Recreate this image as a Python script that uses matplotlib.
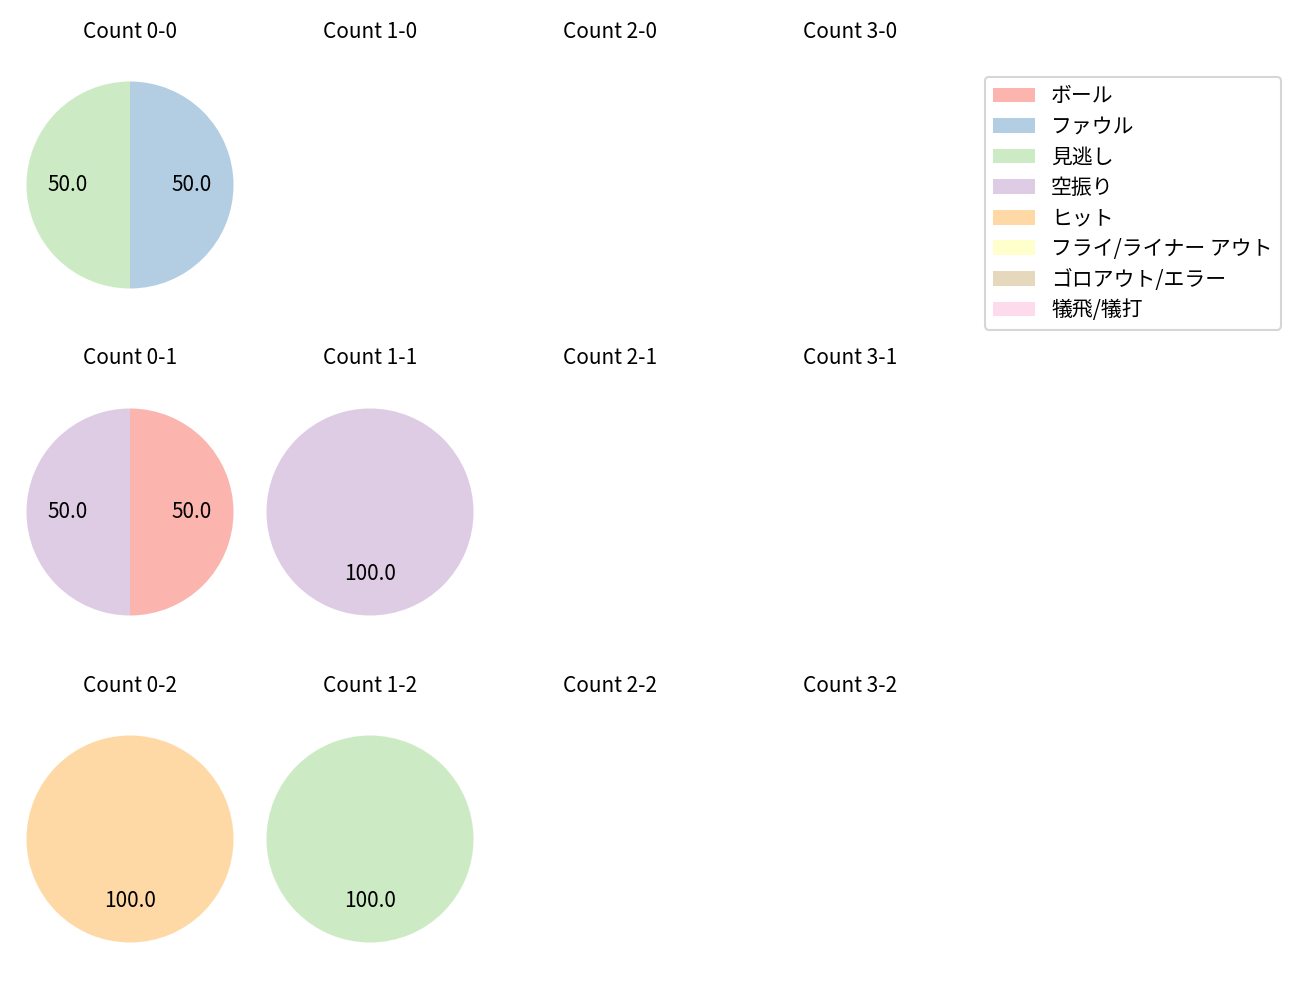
import matplotlib.pyplot as plt
from matplotlib.patches import Patch

plt.rcParams['font.family'] = ['Noto Sans CJK JP', 'DejaVu Sans']

categories = ['ボール', 'ファウル', '見逃し', '空振り', 'ヒット',
              'フライ/ライナー アウト', 'ゴロアウト/エラー', '犠飛/犠打']
colors = plt.get_cmap('Pastel1').colors[:len(categories)]

balls = [0, 1, 2, 3]
strikes = [0, 1, 2]

# percentages per count, same order as categories (missing = no pitches)
count_0_0 = [0, 50, 50, 0, 0, 0, 0, 0]
count_0_1 = [50, 0, 0, 50, 0, 0, 0, 0]
count_1_1 = [0, 0, 0, 100, 0, 0, 0, 0]
count_0_2 = [0, 0, 0, 0, 100, 0, 0, 0]
count_1_2 = [0, 0, 100, 0, 0, 0, 0, 0]

data = {
    (0, 0): count_0_0,
    (0, 1): count_0_1,
    (1, 1): count_1_1,
    (0, 2): count_0_2,
    (1, 2): count_1_2,
}

W, H = 1300, 1000
fig = plt.figure(figsize=(W / 150, H / 150), dpi=150)

box_w, box_h = 258.75, 270
for r, s in enumerate(strikes):
    for c, b in enumerate(balls):
        cx = 130 + 240 * c
        cy = 185 + 327 * r
        ax = fig.add_axes([(cx - box_w / 2) / W, 1 - (cy + box_h / 2) / H,
                           box_w / W, box_h / H])
        ax.set_title(f'Count {b}-{s}', fontsize=10)
        vals = data.get((b, s))
        if vals is None:
            ax.axis('off')
            continue
        idx = [i for i, v in enumerate(vals) if v > 0]
        ax.pie([vals[i] for i in idx], colors=[colors[i] for i in idx],
               autopct='%.1f', startangle=90, counterclock=False)
        half = 1.25 * box_h / box_w
        ax.set_xlim(-1.25, 1.25)
        ax.set_ylim(-half, half)
        ax.set_aspect('equal', adjustable='datalim')

handles = [Patch(facecolor=col, label=lab) for col, lab in zip(colors, categories)]
fig.legend(handles=handles, loc='upper right', bbox_to_anchor=(0.9934, 0.9334),
           labelspacing=0.41)

fig.savefig('out.png')
